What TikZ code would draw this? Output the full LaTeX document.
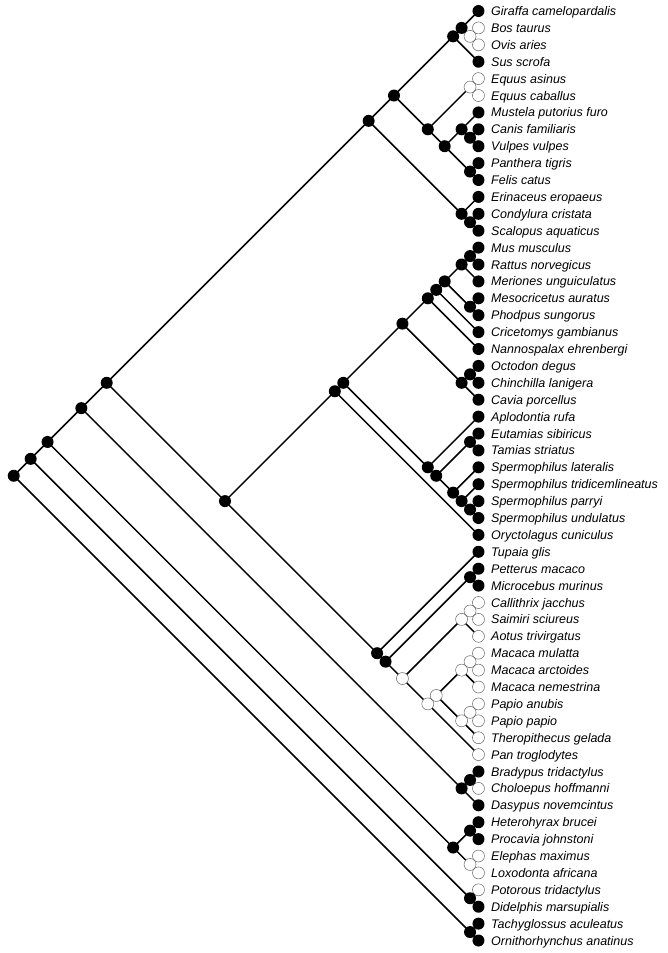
\documentclass[tikz,border=0pt]{standalone}
\usepackage{fontspec}
\setsansfont{Liberation Sans}
\usepackage{tikz}
\tikzset{
  branch/.style={line width=1.5pt, line join=round},
  taxon/.style={anchor=base west, inner sep=0pt, font=\sffamily\itshape\fontsize{12.5}{15}\selectfont},
  opendot/.style={draw=black!60, line width=0.5pt},
}

\begin{document}
\begin{tikzpicture}[x=8.45pt, y=-16.9pt]
    \useasboundingbox (-56.627,0.349) rectangle (22.426,56.740);

    % Taxa, one row each
    \foreach \name [count=\k] in {Giraffa camelopardalis, Bos taurus, Ovis aries, Sus scrofa,
        Equus asinus, Equus caballus, Mustela putorius furo, Canis familiaris, Vulpes vulpes,
        Panthera tigris, Felis catus, Erinaceus eropaeus, Condylura cristata, Scalopus aquaticus,
        Mus musculus, Rattus norvegicus, Meriones unguiculatus, Mesocricetus auratus,
        Phodpus sungorus, Cricetomys gambianus, Nannospalax ehrenbergi, Octodon degus,
        Chinchilla lanigera, Cavia porcellus, Aplodontia rufa, Eutamias sibiricus,
        Tamias striatus, Spermophilus lateralis, Spermophilus tridicemlineatus,
        Spermophilus parryi, Spermophilus undulatus, Oryctolagus cuniculus, Tupaia glis,
        Petterus macaco, Microcebus murinus, Callithrix jacchus, Saimiri sciureus,
        Aotus trivirgatus, Macaca mulatta, Macaca arctoides, Macaca nemestrina, Papio anubis,
        Papio papio, Theropithecus gelada, Pan troglodytes, Bradypus tridactylus,
        Choloepus hoffmanni, Dasypus novemcintus, Heterohyrax brucei, Procavia johnstoni,
        Elephas maximus, Loxodonta africana, Potorous tridactylus, Didelphis marsupialis,
        Tachyglossus aculeatus, Ornithorhynchus anatinus}{
        \coordinate (t\k) at (0,\k);
        \node[taxon] (name\k) at ([xshift=12.5pt, yshift=-4.5pt]t\k) {\name};
    }

    % Laurasiatheria
    \coordinate (bosovis) at (-1, 2.5);
    \coordinate (girbov) at (-2, 2);
    \coordinate (ceta) at (-3, 2.5);
    \coordinate (equus) at (-1, 5.5);
    \coordinate (canid) at (-1, 8.5);
    \coordinate (caniform) at (-2, 8);
    \coordinate (felid) at (-1, 10.5);
    \coordinate (carniv) at (-4, 9);
    \coordinate (perisso) at (-6, 8);
    \coordinate (ferungul) at (-10, 6);
    \coordinate (mole) at (-1, 13.5);
    \coordinate (eulipo) at (-2, 13);
    \coordinate (laura) at (-13, 7.5);

    % Glires
    \coordinate (murine) at (-1, 15.5);
    \coordinate (murid) at (-2, 16);
    \coordinate (cricet) at (-1, 18.5);
    \coordinate (muroidA) at (-4, 17);
    \coordinate (muroidB) at (-5, 17.5);
    \coordinate (muroid) at (-6, 18);
    \coordinate (caviom) at (-1, 22.5);
    \coordinate (hystrico) at (-2, 23);
    \coordinate (mouse) at (-9, 19.5);
    \coordinate (chipmunk) at (-1, 26.5);
    \coordinate (spermoA) at (-1, 30.5);
    \coordinate (spermoB) at (-2, 30);
    \coordinate (spermo) at (-3, 29.5);
    \coordinate (marmot) at (-5, 28.5);
    \coordinate (sciuro) at (-6, 28);
    \coordinate (rodent) at (-16, 23);
    \coordinate (glires) at (-17, 23.5);

    % Euarchonta
    \coordinate (lemur) at (-1, 34.5);
    \coordinate (marmoset) at (-1, 36.5);
    \coordinate (platyr) at (-2, 37);
    \coordinate (macaqueA) at (-1, 39.5);
    \coordinate (macaque) at (-2, 40);
    \coordinate (papioA) at (-1, 42.5);
    \coordinate (papionin) at (-2, 43);
    \coordinate (cercop) at (-5, 41.5);
    \coordinate (catarrh) at (-6, 42);
    \coordinate (anthrop) at (-9, 40.5);
    \coordinate (primate) at (-11, 39.5);
    \coordinate (euarch) at (-12, 39);
    \coordinate (euglires) at (-30, 30);

    % Backbone and basal groups
    \coordinate (boreo) at (-44, 23);
    \coordinate (sloth) at (-1, 46.5);
    \coordinate (xenar) at (-2, 47);
    \coordinate (exafro) at (-47, 24.5);
    \coordinate (hyrax) at (-1, 49.5);
    \coordinate (eleph) at (-1, 51.5);
    \coordinate (afro) at (-3, 50.5);
    \coordinate (placent) at (-51, 26.5);
    \coordinate (marsup) at (-1, 53.5);
    \coordinate (theria) at (-53, 27.5);
    \coordinate (monot) at (-1, 55.5);
    \coordinate (root) at (-55, 28.5);

    % Branches
    \draw[branch] (t2) -- (bosovis) -- (t3);
    \draw[branch] (t1) -- (girbov) -- (bosovis);
    \draw[branch] (girbov) -- (ceta) -- (t4);
    \draw[branch] (t5) -- (equus) -- (t6);
    \draw[branch] (t8) -- (canid) -- (t9);
    \draw[branch] (t7) -- (caniform) -- (canid);
    \draw[branch] (t10) -- (felid) -- (t11);
    \draw[branch] (caniform) -- (carniv) -- (felid);
    \draw[branch] (equus) -- (perisso) -- (carniv);
    \draw[branch] (ceta) -- (ferungul) -- (perisso);
    \draw[branch] (t13) -- (mole) -- (t14);
    \draw[branch] (t12) -- (eulipo) -- (mole);
    \draw[branch] (ferungul) -- (laura) -- (eulipo);

    \draw[branch] (t15) -- (murine) -- (t16);
    \draw[branch] (murine) -- (murid) -- (t17);
    \draw[branch] (t18) -- (cricet) -- (t19);
    \draw[branch] (murid) -- (muroidA) -- (cricet);
    \draw[branch] (muroidA) -- (muroidB) -- (t20);
    \draw[branch] (muroidB) -- (muroid) -- (t21);
    \draw[branch] (t22) -- (caviom) -- (t23);
    \draw[branch] (caviom) -- (hystrico) -- (t24);
    \draw[branch] (muroid) -- (mouse) -- (hystrico);
    \draw[branch] (t26) -- (chipmunk) -- (t27);
    \draw[branch] (t30) -- (spermoA) -- (t31);
    \draw[branch] (t29) -- (spermoB) -- (spermoA);
    \draw[branch] (t28) -- (spermo) -- (spermoB);
    \draw[branch] (chipmunk) -- (marmot) -- (spermo);
    \draw[branch] (t25) -- (sciuro) -- (marmot);
    \draw[branch] (mouse) -- (rodent) -- (sciuro);
    \draw[branch] (rodent) -- (glires) -- (t32);

    \draw[branch] (t34) -- (lemur) -- (t35);
    \draw[branch] (t36) -- (marmoset) -- (t37);
    \draw[branch] (marmoset) -- (platyr) -- (t38);
    \draw[branch] (t39) -- (macaqueA) -- (t40);
    \draw[branch] (macaqueA) -- (macaque) -- (t41);
    \draw[branch] (t42) -- (papioA) -- (t43);
    \draw[branch] (papioA) -- (papionin) -- (t44);
    \draw[branch] (macaque) -- (cercop) -- (papionin);
    \draw[branch] (cercop) -- (catarrh) -- (t45);
    \draw[branch] (platyr) -- (anthrop) -- (catarrh);
    \draw[branch] (lemur) -- (primate) -- (anthrop);
    \draw[branch] (t33) -- (euarch) -- (primate);
    \draw[branch] (glires) -- (euglires) -- (euarch);

    \draw[branch] (laura) -- (boreo) -- (euglires);
    \draw[branch] (t46) -- (sloth) -- (t47);
    \draw[branch] (sloth) -- (xenar) -- (t48);
    \draw[branch] (boreo) -- (exafro) -- (xenar);
    \draw[branch] (t49) -- (hyrax) -- (t50);
    \draw[branch] (t51) -- (eleph) -- (t52);
    \draw[branch] (hyrax) -- (afro) -- (eleph);
    \draw[branch] (exafro) -- (placent) -- (afro);
    \draw[branch] (t53) -- (marsup) -- (t54);
    \draw[branch] (placent) -- (theria) -- (marsup);
    \draw[branch] (t55) -- (monot) -- (t56);
    \draw[branch] (theria) -- (root) -- (monot);

    % Open dots: fill first, then all rims
    \foreach \n in {t2,t3,t5,t6,t36,t37,t38,t39,t40,t41,t42,t43,t44,t45,t47,t51,t52,t53,
        bosovis,equus,marmoset,platyr,macaqueA,macaque,papioA,papionin,cercop,catarrh,anthrop,eleph}
        \fill[white] (\n) circle (6pt);
    \foreach \n in {t2,t3,t5,t6,t36,t37,t38,t39,t40,t41,t42,t43,t44,t45,t47,t51,t52,t53,
        bosovis,equus,marmoset,platyr,macaqueA,macaque,papioA,papionin,cercop,catarrh,anthrop,eleph}
        \draw[opendot] (\n) circle (6pt);

    % Filled dots
    \foreach \k in {1,4,7,8,...,35,46,48,49,50,54,55,56}
        \fill (t\k) circle (6pt);
    \foreach \n in {girbov,ceta,canid,caniform,felid,carniv,perisso,ferungul,mole,eulipo,laura,
        murine,murid,cricet,muroidA,muroidB,muroid,caviom,hystrico,mouse,chipmunk,spermoA,
        spermoB,spermo,marmot,sciuro,rodent,glires,lemur,primate,euarch,euglires,boreo,sloth,
        xenar,exafro,hyrax,afro,placent,marsup,theria,monot,root}
        \fill (\n) circle (6pt);
\end{tikzpicture}
\end{document}
